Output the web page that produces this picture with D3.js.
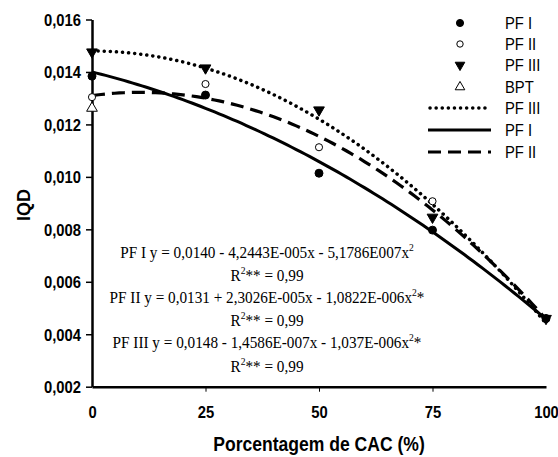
<!DOCTYPE html>
<html><head><meta charset="utf-8">
<script src="https://cdn.jsdelivr.net/npm/d3@7"></script>
<style>body{margin:0;background:#fff}</style>
</head><body>
<svg id="c" width="558" height="457"></svg>
<script>
const xValues = [0, 25, 50, 75, 100];
const pf1 = [0.01384, 0.01312, 0.01014, 0.00797, 0.0046];
const pf2 = [0.01304, 0.01354, 0.01113, 0.00907, 0.0046];
const pf3 = [0.01476, 0.01415, 0.01255, 0.00846, 0.0046];
const bptX = [0];
const bpt = [0.01262];
const coefPF1 = [0.0140, -4.2443e-5, -5.1786e-7];
const coefPF2 = [0.0131, 2.3026e-5, -1.0822e-6];
const coefPF3 = [0.0148, -1.4586e-7, -1.037e-6];
const yTicks = [0.002, 0.004, 0.006, 0.008, 0.010, 0.012, 0.014, 0.016];
const xTicks = [0, 25, 50, 75, 100];
const eqLines = [
  ["PF I y = 0,0140 - 4,2443E-005x - 5,1786E007x", "2", ""],
  ["R", "2", "** = 0,99"],
  ["PF II y = 0,0131 + 2,3026E-005x - 1,0822E-006x", "2", "*"],
  ["R", "2", "** = 0,99"],
  ["PF III y = 0,0148 - 1,4586E-007x - 1,037E-006x", "2", "*"],
  ["R", "2", "** = 0,99"]
];

const SX = 0.87;
const sans = "Liberation Sans, Arial, Helvetica";
const svg = d3.select("#c");
const x = d3.scaleLinear().domain([0, 100]).range([92, 546]);
const y = d3.scaleLinear().domain([0.002, 0.016]).range([386.7, 19.5]);
const fmt = d => d3.format(".3f")(d).replace(".", ",");

// axes
const ya = svg.append("g").attr("transform", "translate(92,0)")
  .call(d3.axisLeft(y).tickValues(yTicks).tickFormat(fmt).tickSize(6).tickSizeOuter(0));
ya.select(".domain").attr("stroke-width", 2.5);
ya.selectAll(".tick line").attr("stroke-width", 1.5);
ya.selectAll("text").attr("font-family", sans).attr("font-weight", "bold").attr("font-size", 17)
  .attr("x", 0).attr("dy", "0.35em").attr("transform", `translate(-11,0) scale(${SX},1)`);

const xa = svg.append("g").attr("transform", "translate(0,386.7)")
  .call(d3.axisBottom(x).tickValues(xTicks).tickFormat(d3.format("d")).tickSize(5).tickSizeOuter(0));
xa.select(".domain").attr("stroke-width", 2.5);
xa.selectAll(".tick line").attr("stroke-width", 1).filter(d => d === 0 || d === 100).remove();
xa.selectAll("text").attr("font-family", sans).attr("font-weight", "bold").attr("font-size", 17)
  .attr("y", 0).attr("dy", 0).attr("transform", `translate(0,31) scale(${SX},1)`);

svg.append("text").attr("transform", `translate(319,451) scale(0.9,1)`).attr("text-anchor", "middle")
  .attr("font-family", sans).attr("font-weight", "bold").attr("font-size", 19.5)
  .text("Porcentagem de CAC (%)");
svg.append("text").attr("transform", "translate(30,205) rotate(-90)").attr("text-anchor", "middle")
  .attr("font-family", sans).attr("font-weight", "bold").attr("font-size", 18)
  .text("IQD");

// fitted curves
const xs = d3.range(0, 100.5, 1);
const curve = c => xs.map(v => [v, c[0] + c[1] * v + c[2] * v * v]);
const line = d3.line().x(d => x(d[0])).y(d => y(d[1]));
const styles = {
  pf3: {dash: "0.1,6", cap: "round", w: 3.5},
  pf1: {dash: null, cap: "butt", w: 3},
  pf2: {dash: "13,7", cap: "butt", w: 3.2}
};
function drawCurve(c, s) {
  svg.append("path").attr("d", line(curve(c))).attr("fill", "none").attr("stroke", "#000")
    .attr("stroke-width", s.w).attr("stroke-dasharray", s.dash).attr("stroke-linecap", s.cap);
}
drawCurve(coefPF2, styles.pf2);
drawCurve(coefPF1, styles.pf1);
drawCurve(coefPF3, styles.pf3);

// markers
const sym = {
  pf1: {t: d3.symbolCircle, size: 50, fill: "#000"},
  pf2: {t: d3.symbolCircle, size: 40, fill: "#fff"},
  pf3: {t: d3.symbolTriangle, size: 50, fill: "#000", rot: 180},
  bpt: {t: d3.symbolTriangle, size: 50, fill: "#fff", rot: 0}
};
function drawPts(xv, yv, s) {
  svg.append("g").selectAll("path").data(xv.map((v, i) => [v, yv[i]])).join("path")
    .attr("d", d3.symbol().type(s.t).size(s.size))
    .attr("transform", d => `translate(${x(d[0])},${y(d[1])}) rotate(${s.rot || 0})`)
    .attr("fill", s.fill).attr("stroke", "#000").attr("stroke-width", 1);
}
drawPts(xValues, pf2, sym.pf2);
drawPts(bptX, bpt, sym.bpt);
drawPts(xValues, pf1, sym.pf1);
drawPts(xValues, pf3, sym.pf3);

// equations
const eq = svg.append("g").attr("font-family", "Liberation Serif, Times New Roman").attr("font-size", 17.5);
const eqY = [258, 281, 303, 326, 348, 372];
eqLines.forEach((l, i) => {
  const t = eq.append("text").attr("transform", `translate(267,${eqY[i]}) scale(${SX},1)`).attr("text-anchor", "middle");
  t.append("tspan").text(l[0]);
  t.append("tspan").attr("font-size", 11).attr("dy", -7).text(l[1]);
  t.append("tspan").attr("dy", 7).text(l[2]);
});

// legend
const lg = svg.append("g").attr("font-family", sans).attr("font-size", 17);
const legItems = [
  {k: "pf1", label: "PF I", type: "sym"},
  {k: "pf2", label: "PF II", type: "sym"},
  {k: "pf3", label: "PF III", type: "sym"},
  {k: "bpt", label: "BPT", type: "sym"},
  {k: "pf3", label: "PF III", type: "line"},
  {k: "pf1", label: "PF I", type: "line"},
  {k: "pf2", label: "PF II", type: "line"}
];
const legY = [23, 44, 65, 87, 108, 130, 152];
legItems.forEach((it, i) => {
  const yy = legY[i];
  if (it.type === "sym") {
    const s = sym[it.k];
    lg.append("path").attr("d", d3.symbol().type(s.t).size(s.size * 0.8))
      .attr("transform", `translate(460,${yy}) rotate(${s.rot || 0})`)
      .attr("fill", s.fill).attr("stroke", "#000").attr("stroke-width", 1);
  } else {
    const s = styles[it.k];
    lg.append("line").attr("x1", it.k === "pf3" ? 430 : 428).attr("x2", 491).attr("y1", yy).attr("y2", yy)
      .attr("stroke", "#000").attr("stroke-width", s.w).attr("stroke-dasharray", s.dash).attr("stroke-linecap", s.cap);
  }
  lg.append("text").attr("transform", `translate(505,${yy + 6}) scale(${SX},1)`).text(it.label);
});
</script>
</body></html>
